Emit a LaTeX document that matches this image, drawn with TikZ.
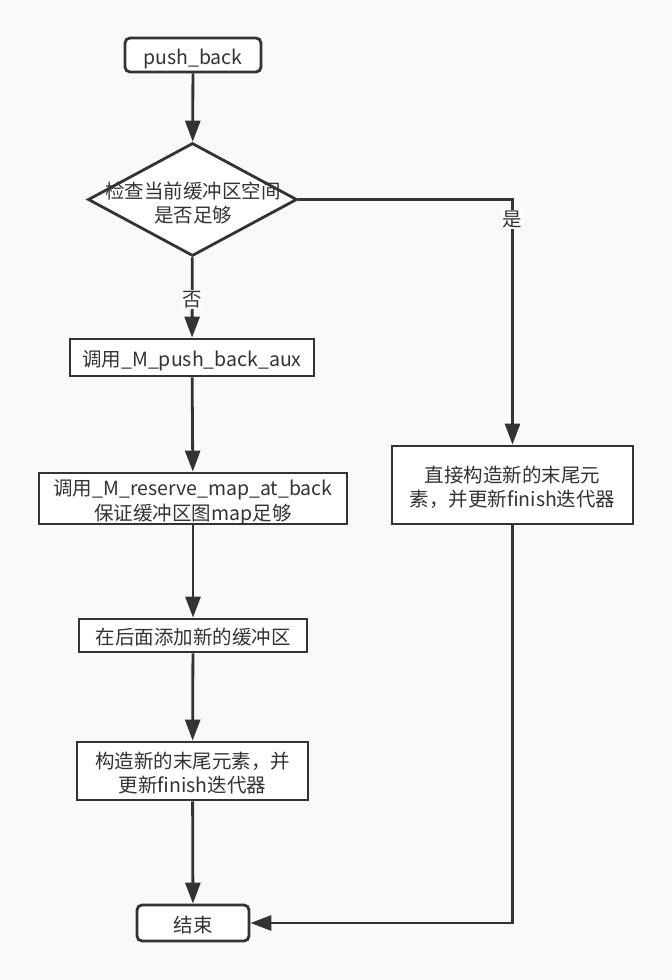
\documentclass[tikz,border=0pt]{standalone}
\usepackage{fontspec}
\setmainfont{Noto Sans CJK SC}
\usetikzlibrary{arrows.meta,shapes.geometric}
\definecolor{ink}{HTML}{333333}
\definecolor{paper}{HTML}{F9F9F9}
% set a (possibly multi-line) label slightly below the optical centre of its box
\newcommand{\dropText}[1]{\raisebox{-4.5pt}[\height][\depth]{\begin{tabular}{@{}c@{}}#1\end{tabular}}}
\begin{document}
\begin{tikzpicture}[x=1pt,y=-1pt,
  every node/.style={font=\fontsize{19.5}{24.5}\selectfont, text=ink},
  box/.style={draw=ink, line width=2.8pt, fill=white, inner sep=0pt, align=center},
  term/.style={box, rounded corners=5pt},
  flow/.style={draw=ink, line width=2.8pt, -{Triangle[length=21pt,width=15pt]}},
  tag/.style={fill=white, inner sep=1pt}]
  \fill[paper] (0,0) rectangle (672,980);
  \useasboundingbox (0,0) rectangle (672,980);

  % main column
  \node[term, minimum width=136pt, minimum height=34pt] (start) at (193,55) {\dropText{push\_back}};
  \node[diamond, draw=ink, line width=2.8pt, fill=white, inner sep=0pt,
        minimum width=209pt, minimum height=113pt] (chk) at (192.5,199.5) {};
  \node[align=center] (chktxt) at (193,201) {\dropText{检查当前缓冲区空间\\是否足够}};
  \node[box, minimum width=244pt, minimum height=37pt] (aux) at (192,357.5) {\dropText{调用\_M\_push\_back\_aux}};
  \node[box, minimum width=308pt, minimum height=51pt] (rsv) at (193,498.5) {\dropText{调用\_M\_reserve\_map\_at\_back\\保证缓冲区图map足够}};
  \node[box, minimum width=228pt, minimum height=33pt] (add) at (193,635.5) {\dropText{在后面添加新的缓冲区}};
  \node[box, minimum width=231pt, minimum height=58pt] (cons) at (192.5,771) {\dropText{构造新的末尾元素，并\\更新finish迭代器}};
  \node[term, minimum width=112pt, minimum height=36pt] (end) at (193,923) {\dropText{结束}};

  % side branch
  \node[box, minimum width=241pt, minimum height=78pt] (direct) at (512.5,485) {\dropText{直接构造新的末尾元\\素，并更新finish迭代器}};

  % connectors
  \draw[flow] (start) -- (chk);
  \draw[flow] (chk) -- node[tag, pos=0.53]{否} (aux);
  \draw[flow] (chk.east) -| node[tag, pos=0.54]{是} (direct);
  \draw[flow] (aux) -- (rsv);
  \draw[flow] (rsv) -- (add);
  \draw[flow] (add) -- (cons);
  \draw[flow] (cons) -- (end);
  \draw[flow] (direct) |- (end);
\end{tikzpicture}
\end{document}
